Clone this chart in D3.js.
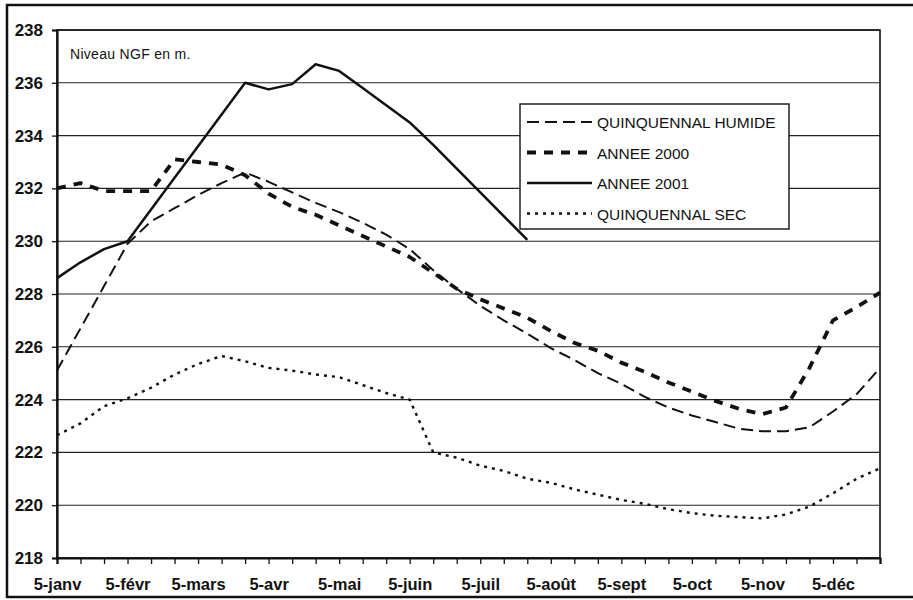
<!DOCTYPE html>
<html>
<head>
<meta charset="utf-8">
<script src="https://cdn.jsdelivr.net/npm/d3@7"></script>
<style>
  body { margin: 0; background: #fff; }
  svg { font-family: 'Liberation Sans', Arial, sans-serif; }
</style>
</head>
<body>
<div id="chart"></div>
<script>
// categories every 10 days, labelled only on the 5th of each month
let categories = [
  '5-janv', '15-janv', '25-janv', '5-févr', '15-févr', '25-févr',
  '5-mars', '15-mars', '25-mars', '5-avr', '15-avr', '25-avr',
  '5-mai', '15-mai', '25-mai', '5-juin', '15-juin', '25-juin',
  '5-juil', '15-juil', '25-juil', '5-août', '15-août', '25-août',
  '5-sept', '15-sept', '25-sept', '5-oct', '15-oct', '25-oct',
  '5-nov', '15-nov', '25-nov', '5-déc', '15-déc', '25-déc'
]

let tickLabels = ['5-janv', '5-févr', '5-mars', '5-avr', '5-mai', '5-juin',
  '5-juil', '5-août', '5-sept', '5-oct', '5-nov', '5-déc']

let yTicks = [218, 220, 222, 224, 226, 228, 230, 232, 234, 236, 238]

let quinquennalHumide = [225.1, 226.7, 228.3, 229.9, 230.75, 231.25, 231.75, 232.2, 232.6,
  232.25, 231.85, 231.45, 231.1, 230.7, 230.25, 229.7, 228.9, 228.2, 227.55, 227.0, 226.5,
  225.95, 225.5, 225.0, 224.6, 224.1, 223.7, 223.4, 223.15, 222.9, 222.8, 222.8, 222.95,
  223.55, 224.2, 225.2]

let annee2000 = [232.0, 232.2, 231.9, 231.9, 231.9, 233.1, 233.0, 232.9, 232.5, 231.8,
  231.3, 231.0, 230.6, 230.2, 229.8, 229.4, 228.8, 228.2, 227.8, 227.45, 227.1, 226.6,
  226.15, 225.85, 225.4, 225.05, 224.65, 224.3, 223.95, 223.65, 223.45, 223.7, 225.2,
  227.0, 227.5, 228.05]

let annee2001 = [228.6, 229.2, 229.7, 230.0, 231.2, 232.4, 233.6, 234.8, 236.0, 235.75,
  235.95, 236.7, 236.45, 235.8, 235.15, 234.5, 233.65, 232.75, 231.85, 230.95, 230.05]

let quinquennalSec = [222.65, 223.1, 223.75, 224.05, 224.45, 224.95, 225.35, 225.65, 225.45,
  225.2, 225.1, 224.95, 224.85, 224.55, 224.25, 224.0, 222.0, 221.8, 221.5, 221.3, 221.0,
  220.85, 220.6, 220.4, 220.2, 220.05, 219.85, 219.7, 219.6, 219.55, 219.5, 219.65, 219.95,
  220.45, 221.0, 221.4]

let series = [
  { name: 'QUINQUENNAL HUMIDE', values: quinquennalHumide, width: 2, dash: '12,6' },
  { name: 'ANNEE 2000', values: annee2000, width: 3.8, dash: '9,8' },
  { name: 'ANNEE 2001', values: annee2001, width: 2.5, dash: null },
  { name: 'QUINQUENNAL SEC', values: quinquennalSec, width: 2.4, dash: '3,5' }
]

let width = 913
let height = 600
let margin = { top: 30, left: 57, right: 33, bottom: 42 }

let svg = d3.select('#chart')
  .append('svg')
  .attr('width', width)
  .attr('height', height)

// outer frame
svg.append('rect')
  .attr('x', 7)
  .attr('y', 5)
  .attr('width', 930)
  .attr('height', 592)
  .attr('fill', 'none')
  .attr('stroke', '#111')
  .attr('stroke-width', 2.5)

let xScale = d3.scalePoint()
  .domain(categories)
  .range([margin.left, width - margin.right])

let yScale = d3.scaleLinear()
  .domain([218, 238])
  .range([height - margin.bottom, margin.top])

// gridlines
svg.selectAll('.grid')
  .data(yTicks)
  .enter()
  .append('line')
  .attr('class', 'grid')
  .attr('x1', margin.left)
  .attr('x2', width - margin.right)
  .attr('y1', d => yScale(d))
  .attr('y2', d => yScale(d))
  .attr('stroke', '#222')
  .attr('stroke-width', 1.1)

// plot border
svg.append('rect')
  .attr('x', margin.left)
  .attr('y', margin.top)
  .attr('width', width - margin.right - margin.left)
  .attr('height', height - margin.bottom - margin.top)
  .attr('fill', 'none')
  .attr('stroke', '#111')
  .attr('stroke-width', 1.6)

let yAxis = svg.append('g')
  .attr('transform', `translate(${margin.left},0)`)
  .call(d3.axisLeft(yScale).tickValues(yTicks).tickSize(5).tickPadding(9))

yAxis.select('.domain').attr('stroke', '#111').attr('stroke-width', 2.2)
yAxis.selectAll('.tick line').attr('stroke', '#111').attr('stroke-width', 1.3)
yAxis.selectAll('.tick text')
  .attr('font-size', 17)
  .attr('font-weight', 'bold')
  .attr('fill', '#111')
  .attr('font-family', "'Liberation Sans', Arial, sans-serif")

let xAxis = svg.append('g')
  .attr('transform', `translate(0,${height - margin.bottom})`)
  .call(d3.axisBottom(xScale)
    .tickSize(6)
    .tickPadding(14)
    .tickFormat(d => tickLabels.includes(d) ? d : ''))

xAxis.select('.domain').attr('stroke', '#111').attr('stroke-width', 2.2)
xAxis.selectAll('.tick line').attr('stroke', '#111').attr('stroke-width', 1.3)
xAxis.selectAll('.tick text')
  .attr('font-size', 16.5)
  .attr('font-weight', 'bold')
  .attr('fill', '#111')
  .attr('font-family', "'Liberation Sans', Arial, sans-serif")

let line = d3.line()
  .x((d, i) => xScale(categories[i]))
  .y(d => yScale(d))

svg.selectAll('.series')
  .data(series)
  .enter()
  .append('path')
  .attr('class', 'series')
  .attr('d', d => line(d.values))
  .attr('fill', 'none')
  .attr('stroke', '#111')
  .attr('stroke-width', d => d.width)
  .attr('stroke-dasharray', d => d.dash)
  .attr('stroke-linejoin', 'round')

// axis title inside the plot
svg.append('text')
  .text('Niveau NGF en m.')
  .attr('x', 70)
  .attr('y', 59)
  .attr('font-size', 14)
  .attr('letter-spacing', 0.3)
  .attr('fill', '#111')

// legend
let legend = svg.append('g')
  .attr('transform', 'translate(520,104)')

legend.append('rect')
  .attr('width', 269)
  .attr('height', 125)
  .attr('fill', '#fff')
  .attr('stroke', '#111')
  .attr('stroke-width', 1.4)

let rows = legend.selectAll('.entry')
  .data(series)
  .enter()
  .append('g')
  .attr('class', 'entry')
  .attr('transform', (d, i) => `translate(0,${18 + i * 30.5})`)

rows.append('line')
  .attr('x1', 7)
  .attr('x2', 72)
  .attr('stroke', '#111')
  .attr('stroke-width', d => d.width)
  .attr('stroke-dasharray', d => d.dash)

rows.append('text')
  .text(d => d.name)
  .attr('x', 77)
  .attr('y', 6)
  .attr('font-size', 15.5)
  .attr('fill', '#111')
</script>
</body>
</html>
